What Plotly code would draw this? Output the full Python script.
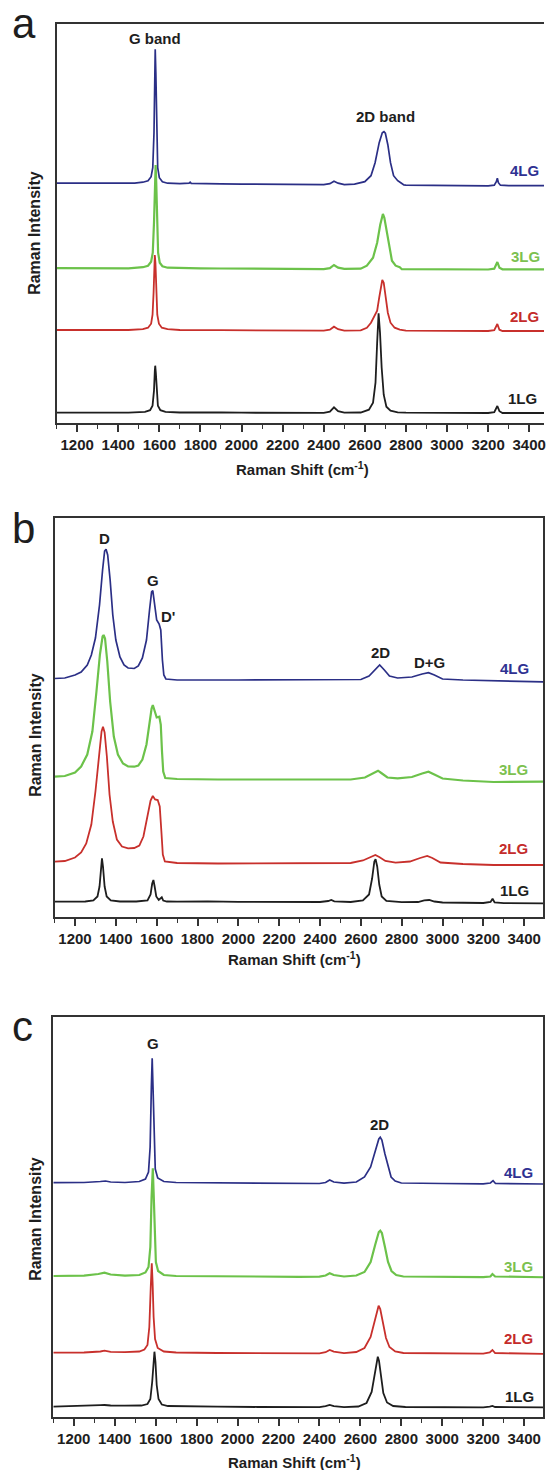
import plotly.graph_objects as go

# ---------------- data (Raman shift in cm-1, intensity in arbitrary offset units) ----------------
# Panel a
A4_X = [1100,1200,1300,1400,1480,1520,1545,1560,1568,1574,1578,1580,1583,1587,1592,1600,1615,1640,1700,1745,1750,1755,1800,1900,2000,2100,2200,2300,2400,2430,2450,2470,2500,2550,2600,2630,2650,2670,2685,2693,2700,2712,2725,2740,2760,2775,2785,2790,2800,2850,2900,3000,3100,3200,3230,3240,3245,3250,3260,3300,3400,3500]
A4_Y = [239.5,239.6,239.5,239.4,239.6,240.5,242,246,255,290,350,373.4,350,290,255,245,241,239.5,239,239.5,240.5,239.3,239,238.8,238.6,238.4,238.2,238,238,239,241.5,239.5,238,238.5,241,247,260,280,290,291,289.5,278,260,247,242,240,238.3,237.8,237.6,237.5,237.3,237,236.8,236.8,237.5,241,244.5,240,237.5,237,237,237]
A3_X = [1100,1300,1450,1520,1545,1560,1568,1574,1579,1582,1585,1589,1594,1602,1615,1640,1700,1800,1900,2000,2200,2400,2430,2450,2470,2500,2580,2610,2640,2660,2675,2688,2695,2705,2718,2732,2750,2770,2780,2800,2900,3000,3200,3230,3245,3255,3270,3500]
A3_Y = [154.5,154.4,154.4,155.5,157,161,170,200,240,257.7,240,200,170,160,156.5,155,154.5,154.3,154.2,154,153.8,153.6,154.5,157.7,155,153.8,154,157,165,180,198,208.7,205,193,175,162,157,155.5,153.5,153.5,153.5,153.4,153.2,154,160.7,155,153.4,153.4]
A2_X = [1100,1300,1450,1520,1545,1560,1567,1572,1576,1578,1581,1585,1590,1598,1612,1640,1700,1900,2100,2300,2400,2430,2450,2470,2500,2580,2610,2630,2648,2660,2670,2680,2685,2692,2702,2712,2725,2745,2770,2800,3000,3200,3230,3245,3255,3270,3500]
A2_Y = [92.7,92.6,92.7,93.5,95,99,108,130,160,167.7,160,130,108,99,95,93.5,92.7,92.5,92.3,92,92,93,96,93.5,92,92.3,95,100,107.7,112,125,140,142.7,140,125,110,100,95,93,92,91.8,91.7,92.5,98.7,93,91.7,91.7]
A1_X = [1100,1300,1450,1530,1555,1567,1574,1578,1580,1583,1587,1593,1605,1630,1700,1800,1850,1900,2000,2200,2400,2430,2450,2470,2500,2580,2620,2640,2652,2660,2667,2674,2682,2692,2705,2725,2760,2800,3000,3200,3230,3245,3255,3270,3500]
A1_Y = [10,10,10,10.8,12.5,17,32,52,57,50,32,17,12.5,10.8,10.2,10.3,10.8,10.2,10,9.8,9.8,11,15.4,11.5,10,10.2,13,20,40,80,109.4,90,55,28,16,12,10.3,10,9.8,9.7,10.5,16.7,11.5,9.7,9.7]

# Panel b
B4_X = [1100,1150,1200,1230,1260,1280,1300,1320,1335,1345,1352,1360,1372,1385,1400,1420,1440,1460,1490,1510,1530,1550,1565,1575,1581,1590,1600,1612,1620,1628,1635,1645,1700,2000,2300,2500,2600,2640,2670,2692,2715,2740,2780,2850,2900,2931,2960,3000,3100,3200,3250,3500]
B4_Y = [238,238.5,241.5,244.5,251.5,261.5,278.5,311.5,346.5,365.5,367.2,361.5,336.5,301.5,276.5,259.5,251.5,248.5,248,250.5,258.5,276.5,306.5,324.5,325.8,313.5,296.5,292.5,286.5,256.5,241.5,237.5,236.5,236.5,236.5,236.5,237,240.5,246.5,251.5,246.5,240.5,238.5,239.5,242.5,243.8,241.5,237.5,236.5,236,235,234.5]
B3_X = [1100,1150,1200,1230,1260,1285,1305,1322,1335,1340,1347,1358,1372,1390,1410,1435,1460,1490,1510,1530,1550,1565,1575,1581,1590,1600,1613,1620,1626,1632,1642,1700,1900,2100,2400,2550,2620,2660,2684,2700,2730,2780,2850,2900,2931,2960,3000,3100,3200,3250,3500]
B3_Y = [139.8,140.5,144,150,162,185,225,262,280,281.5,278,255,215,180,162,153,150,149.8,151,157,172,195,208,211.5,205,199,199.8,192,165,145,138.5,137.5,137,136.8,136.8,137,139,143,145.8,143.5,139,138.2,139.5,143,144.8,142,138,136,135.5,134.5,134.8]
B2_X = [1100,1150,1200,1230,1255,1280,1300,1318,1330,1337,1345,1356,1369,1385,1405,1430,1460,1490,1515,1535,1555,1570,1581,1592,1605,1615,1623,1630,1640,1700,1900,2200,2450,2550,2610,2645,2671,2690,2720,2770,2840,2890,2925,2950,2990,3100,3200,3250,3500]
B2_Y = [54.8,55.5,59,64,73,92,125,165,185,189.8,184,160,122,95,77,70,68.2,68.5,71,80,100,116,120.5,117,116.5,110,85,62,55,53.5,53,53,53,53.5,56,59.5,61.5,59.5,55.5,53.8,55,58.5,60.5,58.5,54,52.5,52,51.5,51.5]
B1_X = [1100,1250,1290,1310,1320,1327,1332,1337,1345,1355,1375,1420,1500,1555,1570,1578,1584,1590,1598,1610,1620,1625,1632,1650,1700,1850,2000,2200,2400,2440,2455,2470,2550,2610,2640,2655,2666,2672,2680,2690,2702,2725,2800,2880,2910,2935,2960,3000,3200,3235,3245,3255,3300,3500]
B1_Y = [14.8,15,16,20,30,50,58.2,50,30,20,16,15,15,16,22,33,36.5,30,20,16.5,18.5,19.2,16,15,14.8,15.2,14.7,14.5,14.5,15.5,16.5,15.2,14.5,16,22,38,55,57.2,50,32,20,15.5,14.3,14.5,16.2,16.5,15,14,13.5,14.5,17.8,14,13.3,13.2]

# Panel c
C4_X = [1100,1250,1330,1355,1380,1450,1520,1550,1565,1573,1579,1583,1587,1592,1598,1610,1640,1700,1900,2100,2300,2400,2430,2450,2470,2520,2580,2620,2650,2670,2690,2697,2705,2720,2735,2750,2770,2800,3000,3200,3235,3248,3260,3500]
C4_Y = [234.3,234.5,235.5,236,235,234.5,235.5,238,245,270,330,358.7,330,275,248,239,235.5,234.5,234,233.7,233.5,233.5,234.5,237,235,233.8,235,240,250,265,278,279.7,277,263,250,240,236,234,233.5,233.2,234,236.3,233.5,233]
C3_X = [1100,1250,1320,1350,1380,1450,1520,1550,1565,1574,1580,1586,1590,1595,1601,1612,1640,1700,1900,2100,2300,2400,2430,2450,2470,2520,2580,2620,2650,2672,2690,2697,2705,2720,2735,2752,2775,2810,3000,3200,3235,3245,3258,3500]
C3_Y = [141,141.3,143,144.3,142.5,141.3,142,144.5,150,170,220,248.7,225,180,155,146,142,141,140.5,140.3,140.2,140.3,141.5,143.7,142,140.5,141.5,145,155,172,185,186.3,184,170,155,146,142,140.5,140,139.8,140.5,143,140.5,139.7]
C2_X = [1100,1250,1330,1350,1380,1450,1520,1545,1560,1569,1576,1581,1585,1590,1597,1610,1640,1700,1900,2100,2300,2400,2430,2450,2470,2520,2580,2620,2650,2670,2684,2689,2697,2710,2725,2742,2770,2810,3000,3200,3232,3245,3258,3500]
C2_Y = [64.3,64.5,65.5,66.3,65.2,64.8,65.5,67.5,72,90,130,153.7,135,100,78,69,65.5,64.5,64,63.8,63.5,63.7,64.8,67,65.3,63.8,65,69,80,97,109,111.3,108,93,79,70,65.5,64,63.5,63.3,64.5,67,64,63]
C1_X = [1100,1250,1330,1350,1380,1450,1530,1560,1574,1583,1589,1594,1599,1605,1614,1630,1660,1750,1900,2100,2300,2400,2430,2450,2470,2520,2590,2630,2655,2670,2680,2685,2691,2700,2712,2730,2760,2820,3000,3200,3232,3245,3258,3500]
C1_Y = [10.3,10.8,11.8,12,11.5,11.3,11.5,13,18,35,58,65.3,55,32,18,12.5,11,10.5,10.3,10,9.8,9.9,10.8,12,10.8,9.9,10.5,14,25,45,58,60.3,56,40,24,14.5,11,10,9.8,9.6,10.3,11,10,9.7]

SAMPLES = ["4LG", "3LG", "2LG", "1LG"]
TICK_VALUES = [1200, 1400, 1600, 1800, 2000, 2200, 2400, 2600, 2800, 3000, 3200, 3400]

# ---------------- styling ----------------
W, H = 546, 1470
LINE_COLORS = {"4LG": "#2b2f86", "3LG": "#6cc24a", "2LG": "#c8302c", "1LG": "#1e1e1e"}
LABEL_COLORS = {"4LG": "#2e3192", "3LG": "#7cc150", "2LG": "#c42b2b", "1LG": "#1e1e1e"}
LINE_WIDTHS = {"4LG": 1.7, "3LG": 2.2, "2LG": 1.8, "1LG": 1.8}
NARROW = "Liberation Sans Narrow, Arial Narrow, Liberation Sans, Arial, sans-serif"
SANS = "Liberation Sans, Arial, sans-serif"

PANELS = [
    dict(name="a", left=56.8, right=546.0, top=23.5, bottom=422.7, xmax=3472,
         mirror_y=False,
         series={"4LG": (A4_X, A4_Y), "3LG": (A3_X, A3_Y), "2LG": (A2_X, A2_Y), "1LG": (A1_X, A1_Y)},
         bands=[("G band", 1580, 384.7), ("2D band", 2700, 306)],
         sample_labels={"4LG": (3458, 252), "3LG": (3462, 166), "2LG": (3458, 106.7), "1LG": (3450, 24.4)},
         letter_y=24, ytitle_y=233, xtitle_x=304, xtitle_y=468),
    dict(name="b", left=54.8, right=545.0, top=518.3, bottom=916.5, xmax=3492,
         mirror_y=True,
         series={"4LG": (B4_X, B4_Y), "3LG": (B3_X, B3_Y), "2LG": (B2_X, B2_Y), "1LG": (B1_X, B1_Y)},
         bands=[("D", 1345, 378.2), ("G", 1580, 336.5), ("D'", 1654, 299.8), ("2D", 2697, 263.8), ("D+G", 2936, 254.2)],
         sample_labels={"4LG": (3435, 248.2), "3LG": (3427, 147.2), "2LG": (3430, 68.2), "1LG": (3435, 25.8)},
         letter_y=528, ytitle_y=735, xtitle_x=296, xtitle_y=958),
    dict(name="c", left=53.5, right=545.0, top=1017.3, bottom=1417.0, xmax=3492,
         mirror_y=True,
         series={"4LG": (C4_X, C4_Y), "3LG": (C3_X, C3_Y), "2LG": (C2_X, C2_Y), "1LG": (C1_X, C1_Y)},
         bands=[("G", 1586, 373.7), ("2D", 2694, 293)],
         sample_labels={"4LG": (3451, 244.3), "3LG": (3451, 150.3), "2LG": (3454, 78.7), "1LG": (3459, 20.3)},
         letter_y=1026, ytitle_y=1219, xtitle_x=296, xtitle_y=1461),
]

fig = go.Figure()
annotations = []
layout = {}

for i, p in enumerate(PANELS):
    suffix = "" if i == 0 else str(i + 1)
    xa, ya = "x" + suffix, "y" + suffix
    for s in SAMPLES:
        xs, ys = p["series"][s]
        fig.add_trace(go.Scatter(x=xs, y=ys, mode="lines", xaxis=xa, yaxis=ya,
                                 line=dict(color=LINE_COLORS[s], width=LINE_WIDTHS[s]),
                                 showlegend=False, hoverinfo="skip"))
    layout["xaxis" + suffix] = dict(
        domain=[p["left"] / W, p["right"] / W], range=[1100, p["xmax"]], anchor=ya,
        tickmode="array", tickvals=TICK_VALUES, ticks="outside", ticklen=7, tickwidth=1.5,
        tickcolor="#333", showline=True, linecolor="#333", linewidth=2, mirror=True,
        showgrid=False, zeroline=False, ticklabeloverflow="allow",
        tickfont=dict(family=NARROW, size=15, color="#1e1e1e", weight="bold"),
        minor=dict(ticks="outside", ticklen=4, tickwidth=1.2, tickcolor="#333", dtick=100, tick0=1100, showgrid=False),
    )
    layout["yaxis" + suffix] = dict(
        domain=[1 - p["bottom"] / H, 1 - p["top"] / H], range=[0, p["bottom"] - p["top"]], anchor=xa,
        showticklabels=False, ticks="", showline=True, linecolor="#333", linewidth=1.6,
        mirror=p["mirror_y"], showgrid=False, zeroline=False,
    )
    for text, x, y in p["bands"]:
        annotations.append(dict(text=text, x=x, y=y, xref=xa, yref=ya, showarrow=False,
                                xanchor="center", yanchor="middle",
                                font=dict(family=SANS, size=15, color="#1e1e1e", weight="bold")))
    for s, (x, y) in p["sample_labels"].items():
        annotations.append(dict(text=s, x=x, y=y, xref=xa, yref=ya, showarrow=False,
                                xanchor="right", yanchor="middle",
                                font=dict(family=SANS, size=15, color=LABEL_COLORS[s], weight="bold")))
    annotations.append(dict(text=p["name"], x=10 / W, y=1 - p["letter_y"] / H, xref="paper", yref="paper",
                            showarrow=False, xanchor="left", yanchor="middle",
                            font=dict(family=SANS, size=42, color="#1e1e1e")))
    annotations.append(dict(text="Raman Intensity", x=35 / W, y=1 - p["ytitle_y"] / H, xref="paper", yref="paper",
                            showarrow=False, textangle=-90, xanchor="center", yanchor="middle",
                            font=dict(family=SANS, size=16, color="#1e1e1e", weight="bold")))
    annotations.append(dict(text="Raman Shift (cm<sup>-1</sup>)", x=p["xtitle_x"] / W, y=1 - p["xtitle_y"] / H,
                            xref="paper", yref="paper", showarrow=False, xanchor="center", yanchor="middle",
                            font=dict(family=SANS, size=15, color="#1e1e1e", weight="bold")))

fig.update_layout(width=W, height=H, margin=dict(l=0, r=0, t=0, b=0),
                  paper_bgcolor="white", plot_bgcolor="white", showlegend=False,
                  annotations=annotations, **layout)

fig.write_html("out.html", config={"displayModeBar": False},
               post_script="document.body.style.margin='0px';document.body.style.overflow='hidden';")
